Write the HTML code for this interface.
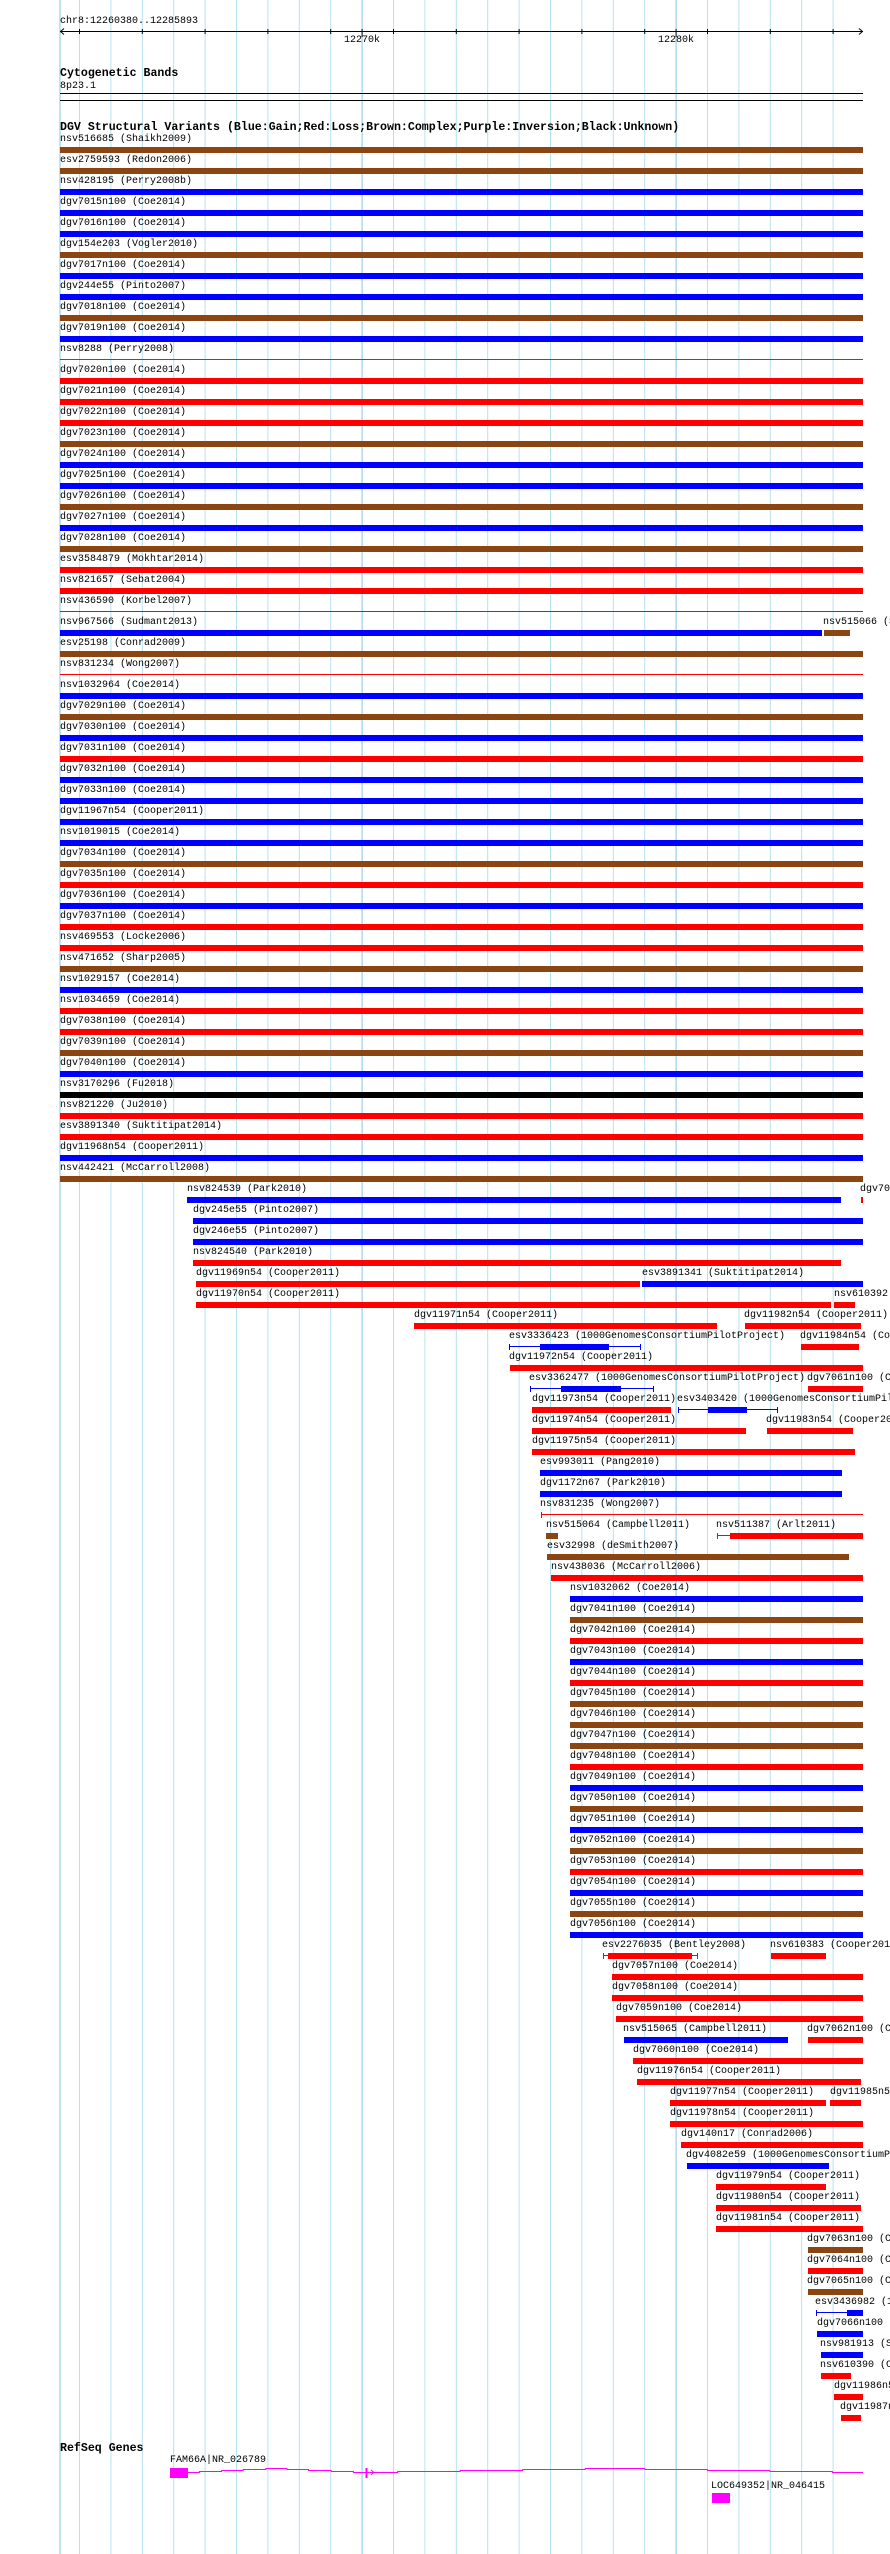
<!DOCTYPE html>
<html><head><meta charset="utf-8"><style>
html{overflow:hidden;width:890px;height:2554px}
html,body{margin:0;padding:0;background:#fff}
body{width:890px;height:2554px;position:relative;overflow:hidden;font-family:"Liberation Mono",monospace}
.t{position:absolute;font:10px/10px "Liberation Mono",monospace;color:#000;white-space:nowrap}
.h{position:absolute;font:bold 11.6px/12px "Liberation Mono",monospace;color:#000;white-space:nowrap}
.r{position:absolute;left:0;width:890px;height:21px}
.r span{position:absolute;top:0;left:60px;font:10px/10px "Liberation Mono",monospace;white-space:nowrap;color:#000}
.r i{position:absolute;top:12px;height:6px;left:60px;width:803px}
.r i.l{top:14px;height:1px}
.r i.k{top:12px;height:6px;width:1px}
.B{background:#0000ff}.R{background:#ff0000}.N{background:#8b4513}.K{background:#000}
</style></head><body>
<svg width="890" height="2554" style="position:absolute;left:0;top:0" xmlns="http://www.w3.org/2000/svg">
<g stroke="#b6e2f0" stroke-width="1">
<line x1="79.5" y1="0" x2="79.5" y2="2554"/><line x1="110.9" y1="0" x2="110.9" y2="2554"/><line x1="142.3" y1="0" x2="142.3" y2="2554"/><line x1="173.7" y1="0" x2="173.7" y2="2554"/><line x1="205.1" y1="0" x2="205.1" y2="2554"/><line x1="236.5" y1="0" x2="236.5" y2="2554"/><line x1="267.9" y1="0" x2="267.9" y2="2554"/><line x1="299.3" y1="0" x2="299.3" y2="2554"/><line x1="330.7" y1="0" x2="330.7" y2="2554"/><line x1="393.5" y1="0" x2="393.5" y2="2554"/><line x1="424.9" y1="0" x2="424.9" y2="2554"/><line x1="456.3" y1="0" x2="456.3" y2="2554"/><line x1="487.7" y1="0" x2="487.7" y2="2554"/><line x1="519.1" y1="0" x2="519.1" y2="2554"/><line x1="550.5" y1="0" x2="550.5" y2="2554"/><line x1="581.9" y1="0" x2="581.9" y2="2554"/><line x1="613.3" y1="0" x2="613.3" y2="2554"/><line x1="644.7" y1="0" x2="644.7" y2="2554"/><line x1="707.5" y1="0" x2="707.5" y2="2554"/><line x1="738.9" y1="0" x2="738.9" y2="2554"/><line x1="770.3" y1="0" x2="770.3" y2="2554"/><line x1="801.7" y1="0" x2="801.7" y2="2554"/><line x1="833.1" y1="0" x2="833.1" y2="2554"/>
</g>
<g stroke="#88c4e6" stroke-width="1">
<line x1="60" y1="0" x2="60" y2="2554"/><line x1="362.1" y1="0" x2="362.1" y2="2554"/><line x1="676.1" y1="0" x2="676.1" y2="2554"/>
</g>
<g stroke="#000" stroke-width="1">
<line x1="60" y1="31.5" x2="863" y2="31.5"/>
<polyline points="64,28.5 60.5,31.5 64,34.5" fill="none"/>
<polyline points="859,28.5 862.5,31.5 859,34.5" fill="none"/>
<line x1="79.5" y1="29" x2="79.5" y2="34"/><line x1="142.3" y1="29" x2="142.3" y2="34"/><line x1="205.1" y1="29" x2="205.1" y2="34"/><line x1="267.9" y1="29" x2="267.9" y2="34"/><line x1="330.7" y1="29" x2="330.7" y2="34"/><line x1="362.1" y1="29" x2="362.1" y2="37"/><line x1="393.5" y1="29" x2="393.5" y2="34"/><line x1="456.3" y1="29" x2="456.3" y2="34"/><line x1="519.1" y1="29" x2="519.1" y2="34"/><line x1="581.9" y1="29" x2="581.9" y2="34"/><line x1="644.7" y1="29" x2="644.7" y2="34"/><line x1="676.1" y1="29" x2="676.1" y2="37"/><line x1="707.5" y1="29" x2="707.5" y2="34"/><line x1="770.3" y1="29" x2="770.3" y2="34"/><line x1="833.1" y1="29" x2="833.1" y2="34"/>
<line x1="60" y1="93.5" x2="863" y2="93.5"/>
<line x1="60" y1="100.5" x2="863" y2="100.5"/>
</g>
<g fill="#ff00ff" stroke="none">
<rect x="170" y="2468" width="18" height="10"/>
<rect x="365.5" y="2468" width="2" height="10"/>
<rect x="712" y="2493" width="18" height="10"/>
</g>
<polyline fill="none" stroke="#ff00ff" stroke-width="1" points="188,2472.5 199.4,2472.5 199.4,2471.5 221.6,2471.5 221.6,2470.5 243.2,2470.5 243.2,2469.5 265.9,2469.5 265.9,2468.5 286.9,2468.5 286.9,2469.5 308.5,2469.5 308.5,2470.5 331.2,2470.5 331.2,2471.5 353.4,2471.5 353.4,2472.5 397.7,2472.5 397.7,2471.5 460.2,2471.5 460.2,2470.5 522.7,2470.5 522.7,2469.5 585.2,2469.5 585.2,2468.5 644.9,2468.5 644.9,2469.5 707.4,2469.5 707.4,2470.5 769.9,2470.5 769.9,2471.5 832.4,2471.5 832.4,2472.5 863,2472.5"/>
<polyline fill="none" stroke="#ff00ff" stroke-width="1" points="371,2470 374,2472.5 371,2475"/>
</svg>

<div class="t" style="left:60px;top:17px">chr8:12260380..12285893</div>
<div class="t" style="left:344px;top:36px">12270k</div>
<div class="t" style="left:658px;top:36px">12280k</div>
<div class="h" style="left:60px;top:68px">Cytogenetic Bands</div>
<div class="t" style="left:60px;top:82px">8p23.1</div>
<div class="h" style="left:60px;top:122px">DGV Structural Variants (Blue:Gain;Red:Loss;Brown:Complex;Purple:Inversion;Black:Unknown)</div>

<div class="r" style="top:135px"><span>nsv516685 (Shaikh2009)</span><i class="N"></i></div>
<div class="r" style="top:156px"><span>esv2759593 (Redon2006)</span><i class="N"></i></div>
<div class="r" style="top:177px"><span>nsv428195 (Perry2008b)</span><i class="B"></i></div>
<div class="r" style="top:198px"><span>dgv7015n100 (Coe2014)</span><i class="B"></i></div>
<div class="r" style="top:219px"><span>dgv7016n100 (Coe2014)</span><i class="B"></i></div>
<div class="r" style="top:240px"><span>dgv154e203 (Vogler2010)</span><i class="N"></i></div>
<div class="r" style="top:261px"><span>dgv7017n100 (Coe2014)</span><i class="B"></i></div>
<div class="r" style="top:282px"><span>dgv244e55 (Pinto2007)</span><i class="B"></i></div>
<div class="r" style="top:303px"><span>dgv7018n100 (Coe2014)</span><i class="N"></i></div>
<div class="r" style="top:324px"><span>dgv7019n100 (Coe2014)</span><i class="B"></i></div>
<div class="r" style="top:345px"><span>nsv8288 (Perry2008)</span><i class="N l"></i></div>
<div class="r" style="top:366px"><span>dgv7020n100 (Coe2014)</span><i class="R"></i></div>
<div class="r" style="top:387px"><span>dgv7021n100 (Coe2014)</span><i class="R"></i></div>
<div class="r" style="top:408px"><span>dgv7022n100 (Coe2014)</span><i class="R"></i></div>
<div class="r" style="top:429px"><span>dgv7023n100 (Coe2014)</span><i class="N"></i></div>
<div class="r" style="top:450px"><span>dgv7024n100 (Coe2014)</span><i class="B"></i></div>
<div class="r" style="top:471px"><span>dgv7025n100 (Coe2014)</span><i class="B"></i></div>
<div class="r" style="top:492px"><span>dgv7026n100 (Coe2014)</span><i class="N"></i></div>
<div class="r" style="top:513px"><span>dgv7027n100 (Coe2014)</span><i class="B"></i></div>
<div class="r" style="top:534px"><span>dgv7028n100 (Coe2014)</span><i class="N"></i></div>
<div class="r" style="top:555px"><span>esv3584879 (Mokhtar2014)</span><i class="R"></i></div>
<div class="r" style="top:576px"><span>nsv821657 (Sebat2004)</span><i class="R"></i></div>
<div class="r" style="top:597px"><span>nsv436590 (Korbel2007)</span><i class="R l"></i></div>
<div class="r" style="top:618px"><span>nsv967566 (Sudmant2013)</span><i class="B" style="width:762px"></i><span style="left:823px">nsv515066 (Sudmant2013)</span><i class="N" style="left:824px;width:26px"></i></div>
<div class="r" style="top:639px"><span>esv25198 (Conrad2009)</span><i class="N"></i></div>
<div class="r" style="top:660px"><span>nsv831234 (Wong2007)</span><i class="R l"></i></div>
<div class="r" style="top:681px"><span>nsv1032964 (Coe2014)</span><i class="B"></i></div>
<div class="r" style="top:702px"><span>dgv7029n100 (Coe2014)</span><i class="N"></i></div>
<div class="r" style="top:723px"><span>dgv7030n100 (Coe2014)</span><i class="B"></i></div>
<div class="r" style="top:744px"><span>dgv7031n100 (Coe2014)</span><i class="R"></i></div>
<div class="r" style="top:765px"><span>dgv7032n100 (Coe2014)</span><i class="B"></i></div>
<div class="r" style="top:786px"><span>dgv7033n100 (Coe2014)</span><i class="B"></i></div>
<div class="r" style="top:807px"><span>dgv11967n54 (Cooper2011)</span><i class="B"></i></div>
<div class="r" style="top:828px"><span>nsv1019015 (Coe2014)</span><i class="B"></i></div>
<div class="r" style="top:849px"><span>dgv7034n100 (Coe2014)</span><i class="N"></i></div>
<div class="r" style="top:870px"><span>dgv7035n100 (Coe2014)</span><i class="R"></i></div>
<div class="r" style="top:891px"><span>dgv7036n100 (Coe2014)</span><i class="B"></i></div>
<div class="r" style="top:912px"><span>dgv7037n100 (Coe2014)</span><i class="R"></i></div>
<div class="r" style="top:933px"><span>nsv469553 (Locke2006)</span><i class="R"></i></div>
<div class="r" style="top:954px"><span>nsv471652 (Sharp2005)</span><i class="N"></i></div>
<div class="r" style="top:975px"><span>nsv1029157 (Coe2014)</span><i class="B"></i></div>
<div class="r" style="top:996px"><span>nsv1034659 (Coe2014)</span><i class="R"></i></div>
<div class="r" style="top:1017px"><span>dgv7038n100 (Coe2014)</span><i class="R"></i></div>
<div class="r" style="top:1038px"><span>dgv7039n100 (Coe2014)</span><i class="N"></i></div>
<div class="r" style="top:1059px"><span>dgv7040n100 (Coe2014)</span><i class="B"></i></div>
<div class="r" style="top:1080px"><span>nsv3170296 (Fu2018)</span><i class="K"></i></div>
<div class="r" style="top:1101px"><span>nsv821220 (Ju2010)</span><i class="R"></i></div>
<div class="r" style="top:1122px"><span>esv3891340 (Suktitipat2014)</span><i class="R"></i></div>
<div class="r" style="top:1143px"><span>dgv11968n54 (Cooper2011)</span><i class="B"></i></div>
<div class="r" style="top:1164px"><span>nsv442421 (McCarroll2008)</span><i class="N"></i></div>

<div class="r" style="top:1185px"><span style="left:187px">nsv824539 (Park2010)</span><i class="B" style="left:187px;width:654px"></i><span style="left:860px">dgv7060n100</span><i class="R" style="left:861px;width:2px"></i></div>
<div class="r" style="top:1206px"><span style="left:193px">dgv245e55 (Pinto2007)</span><i class="B" style="left:193px;width:670px"></i></div>
<div class="r" style="top:1227px"><span style="left:193px">dgv246e55 (Pinto2007)</span><i class="B" style="left:193px;width:670px"></i></div>
<div class="r" style="top:1248px"><span style="left:193px">nsv824540 (Park2010)</span><i class="R" style="left:193px;width:648px"></i></div>
<div class="r" style="top:1269px"><span style="left:196px">dgv11969n54 (Cooper2011)</span><i class="R" style="left:196px;width:444px"></i><span style="left:642px">esv3891341 (Suktitipat2014)</span><i class="B" style="left:642px;width:221px"></i></div>
<div class="r" style="top:1290px"><span style="left:196px">dgv11970n54 (Cooper2011)</span><i class="R" style="left:196px;width:635px"></i><span style="left:834px">nsv610392 (Cooper2011)</span><i class="R" style="left:834px;width:21px"></i></div>
<div class="r" style="top:1311px"><span style="left:414px">dgv11971n54 (Cooper2011)</span><i class="R" style="left:414px;width:303px"></i><span style="left:744px">dgv11982n54 (Cooper2011)</span><i class="R" style="left:745px;width:116px"></i></div>
<div class="r" style="top:1332px"><span style="left:509px">esv3336423 (1000GenomesConsortiumPilotProject)</span><i class="B l" style="left:509px;width:132px"></i><i class="B k" style="left:509px"></i><i class="B k" style="left:640px"></i><i class="B" style="left:540px;width:69px"></i><span style="left:800px">dgv11984n54 (Cooper2011)</span><i class="R" style="left:801px;width:58px"></i></div>
<div class="r" style="top:1353px"><span style="left:509px">dgv11972n54 (Cooper2011)</span><i class="R" style="left:510px;width:353px"></i></div>
<div class="r" style="top:1374px"><span style="left:529px">esv3362477 (1000GenomesConsortiumPilotProject)</span><i class="B l" style="left:530px;width:124px"></i><i class="B k" style="left:530px"></i><i class="B k" style="left:653px"></i><i class="B" style="left:561px;width:60px"></i><span style="left:807px">dgv7061n100 (Coe2014)</span><i class="R" style="left:808px;width:55px"></i></div>
<div class="r" style="top:1395px"><span style="left:532px">dgv11973n54 (Cooper2011)</span><i class="R" style="left:532px;width:139px"></i><span style="left:677px">esv3403420 (1000GenomesConsortiumPilotProject)</span><i class="B l" style="left:678px;width:100px"></i><i class="B k" style="left:678px"></i><i class="B k" style="left:777px"></i><i class="B" style="left:708px;width:39px"></i></div>
<div class="r" style="top:1416px"><span style="left:532px">dgv11974n54 (Cooper2011)</span><i class="R" style="left:532px;width:214px"></i><span style="left:766px">dgv11983n54 (Cooper2011)</span><i class="R" style="left:767px;width:86px"></i></div>
<div class="r" style="top:1437px"><span style="left:532px">dgv11975n54 (Cooper2011)</span><i class="R" style="left:532px;width:323px"></i></div>
<div class="r" style="top:1458px"><span style="left:540px">esv993011 (Pang2010)</span><i class="B" style="left:540px;width:302px"></i></div>
<div class="r" style="top:1479px"><span style="left:540px">dgv1172n67 (Park2010)</span><i class="B" style="left:540px;width:302px"></i></div>
<div class="r" style="top:1500px"><span style="left:540px">nsv831235 (Wong2007)</span><i class="R l" style="left:541px;width:322px"></i><i class="R k" style="left:541px"></i></div>
<div class="r" style="top:1521px"><span style="left:546px">nsv515064 (Campbell2011)</span><i class="N" style="left:546px;width:12px"></i><span style="left:716px">nsv511387 (Arlt2011)</span><i class="R l" style="left:717px;width:14px"></i><i class="R k" style="left:717px"></i><i class="R" style="left:730px;width:133px"></i></div>
<div class="r" style="top:1542px"><span style="left:547px">esv32998 (deSmith2007)</span><i class="N" style="left:547px;width:302px"></i></div>
<div class="r" style="top:1563px"><span style="left:551px">nsv438036 (McCarroll2006)</span><i class="R" style="left:551px;width:312px"></i></div>
<div class="r" style="top:1584px"><span style="left:570px">nsv1032062 (Coe2014)</span><i class="B" style="left:570px;width:293px"></i></div>
<div class="r" style="top:1605px"><span style="left:570px">dgv7041n100 (Coe2014)</span><i class="N" style="left:570px;width:293px"></i></div>
<div class="r" style="top:1626px"><span style="left:570px">dgv7042n100 (Coe2014)</span><i class="R" style="left:570px;width:293px"></i></div>
<div class="r" style="top:1647px"><span style="left:570px">dgv7043n100 (Coe2014)</span><i class="B" style="left:570px;width:293px"></i></div>
<div class="r" style="top:1668px"><span style="left:570px">dgv7044n100 (Coe2014)</span><i class="R" style="left:570px;width:293px"></i></div>
<div class="r" style="top:1689px"><span style="left:570px">dgv7045n100 (Coe2014)</span><i class="N" style="left:570px;width:293px"></i></div>
<div class="r" style="top:1710px"><span style="left:570px">dgv7046n100 (Coe2014)</span><i class="N" style="left:570px;width:293px"></i></div>
<div class="r" style="top:1731px"><span style="left:570px">dgv7047n100 (Coe2014)</span><i class="N" style="left:570px;width:293px"></i></div>
<div class="r" style="top:1752px"><span style="left:570px">dgv7048n100 (Coe2014)</span><i class="R" style="left:570px;width:293px"></i></div>
<div class="r" style="top:1773px"><span style="left:570px">dgv7049n100 (Coe2014)</span><i class="B" style="left:570px;width:293px"></i></div>
<div class="r" style="top:1794px"><span style="left:570px">dgv7050n100 (Coe2014)</span><i class="N" style="left:570px;width:293px"></i></div>
<div class="r" style="top:1815px"><span style="left:570px">dgv7051n100 (Coe2014)</span><i class="B" style="left:570px;width:293px"></i></div>
<div class="r" style="top:1836px"><span style="left:570px">dgv7052n100 (Coe2014)</span><i class="N" style="left:570px;width:293px"></i></div>
<div class="r" style="top:1857px"><span style="left:570px">dgv7053n100 (Coe2014)</span><i class="R" style="left:570px;width:293px"></i></div>
<div class="r" style="top:1878px"><span style="left:570px">dgv7054n100 (Coe2014)</span><i class="B" style="left:570px;width:293px"></i></div>
<div class="r" style="top:1899px"><span style="left:570px">dgv7055n100 (Coe2014)</span><i class="N" style="left:570px;width:293px"></i></div>
<div class="r" style="top:1920px"><span style="left:570px">dgv7056n100 (Coe2014)</span><i class="B" style="left:570px;width:293px"></i></div>
<div class="r" style="top:1941px"><span style="left:602px">esv2276035 (Bentley2008)</span><i class="R l" style="left:603px;width:95px"></i><i class="R k" style="left:603px"></i><i class="R k" style="left:697px"></i><i class="R" style="left:608px;width:84px"></i><span style="left:770px">nsv610383 (Cooper2011)</span><i class="R" style="left:771px;width:55px"></i></div>
<div class="r" style="top:1962px"><span style="left:612px">dgv7057n100 (Coe2014)</span><i class="R" style="left:612px;width:251px"></i></div>
<div class="r" style="top:1983px"><span style="left:612px">dgv7058n100 (Coe2014)</span><i class="R" style="left:612px;width:251px"></i></div>
<div class="r" style="top:2004px"><span style="left:616px">dgv7059n100 (Coe2014)</span><i class="R" style="left:616px;width:247px"></i></div>
<div class="r" style="top:2025px"><span style="left:623px">nsv515065 (Campbell2011)</span><i class="B" style="left:624px;width:164px"></i><span style="left:807px">dgv7062n100 (Coe2014)</span><i class="R" style="left:808px;width:55px"></i></div>
<div class="r" style="top:2046px"><span style="left:633px">dgv7060n100 (Coe2014)</span><i class="R" style="left:633px;width:230px"></i></div>
<div class="r" style="top:2067px"><span style="left:637px">dgv11976n54 (Cooper2011)</span><i class="R" style="left:637px;width:224px"></i></div>
<div class="r" style="top:2088px"><span style="left:670px">dgv11977n54 (Cooper2011)</span><i class="R" style="left:670px;width:156px"></i><span style="left:830px">dgv11985n54 (Cooper2011)</span><i class="R" style="left:830px;width:31px"></i></div>
<div class="r" style="top:2109px"><span style="left:670px">dgv11978n54 (Cooper2011)</span><i class="R" style="left:670px;width:193px"></i></div>
<div class="r" style="top:2130px"><span style="left:681px">dgv140n17 (Conrad2006)</span><i class="R" style="left:681px;width:182px"></i></div>
<div class="r" style="top:2151px"><span style="left:686px">dgv4082e59 (1000GenomesConsortiumPilotProject)</span><i class="B" style="left:687px;width:142px"></i></div>
<div class="r" style="top:2172px"><span style="left:716px">dgv11979n54 (Cooper2011)</span><i class="R" style="left:716px;width:110px"></i></div>
<div class="r" style="top:2193px"><span style="left:716px">dgv11980n54 (Cooper2011)</span><i class="R" style="left:716px;width:145px"></i></div>
<div class="r" style="top:2214px"><span style="left:716px">dgv11981n54 (Cooper2011)</span><i class="R" style="left:716px;width:147px"></i></div>
<div class="r" style="top:2235px"><span style="left:807px">dgv7063n100 (Coe2014)</span><i class="N" style="left:808px;width:55px"></i></div>
<div class="r" style="top:2256px"><span style="left:807px">dgv7064n100 (Coe2014)</span><i class="R" style="left:808px;width:55px"></i></div>
<div class="r" style="top:2277px"><span style="left:807px">dgv7065n100 (Coe2014)</span><i class="N" style="left:808px;width:55px"></i></div>
<div class="r" style="top:2298px"><span style="left:815px">esv3436982 (1000GenomesConsortiumPilotProject)</span><i class="B l" style="left:816px;width:31px"></i><i class="B k" style="left:816px"></i><i class="B" style="left:847px;width:16px"></i></div>
<div class="r" style="top:2319px"><span style="left:817px">dgv7066n100</span><i class="B" style="left:817px;width:46px"></i></div>
<div class="r" style="top:2340px"><span style="left:820px">nsv981913 (Suktitipat2014)</span><i class="B" style="left:821px;width:42px"></i></div>
<div class="r" style="top:2361px"><span style="left:820px">nsv610390 (Cooper2011)</span><i class="R" style="left:821px;width:30px"></i></div>
<div class="r" style="top:2382px"><span style="left:834px">dgv11986n54 (Cooper2011)</span><i class="R" style="left:834px;width:29px"></i></div>
<div class="r" style="top:2403px"><span style="left:840px">dgv11987n54 (Cooper2011)</span><i class="R" style="left:841px;width:20px"></i></div>

<div class="h" style="left:60px;top:2443px">RefSeq Genes</div>
<div class="t" style="left:170px;top:2456px">FAM66A|NR_026789</div>
<div class="t" style="left:711px;top:2482px">LOC649352|NR_046415</div>
</body></html>
